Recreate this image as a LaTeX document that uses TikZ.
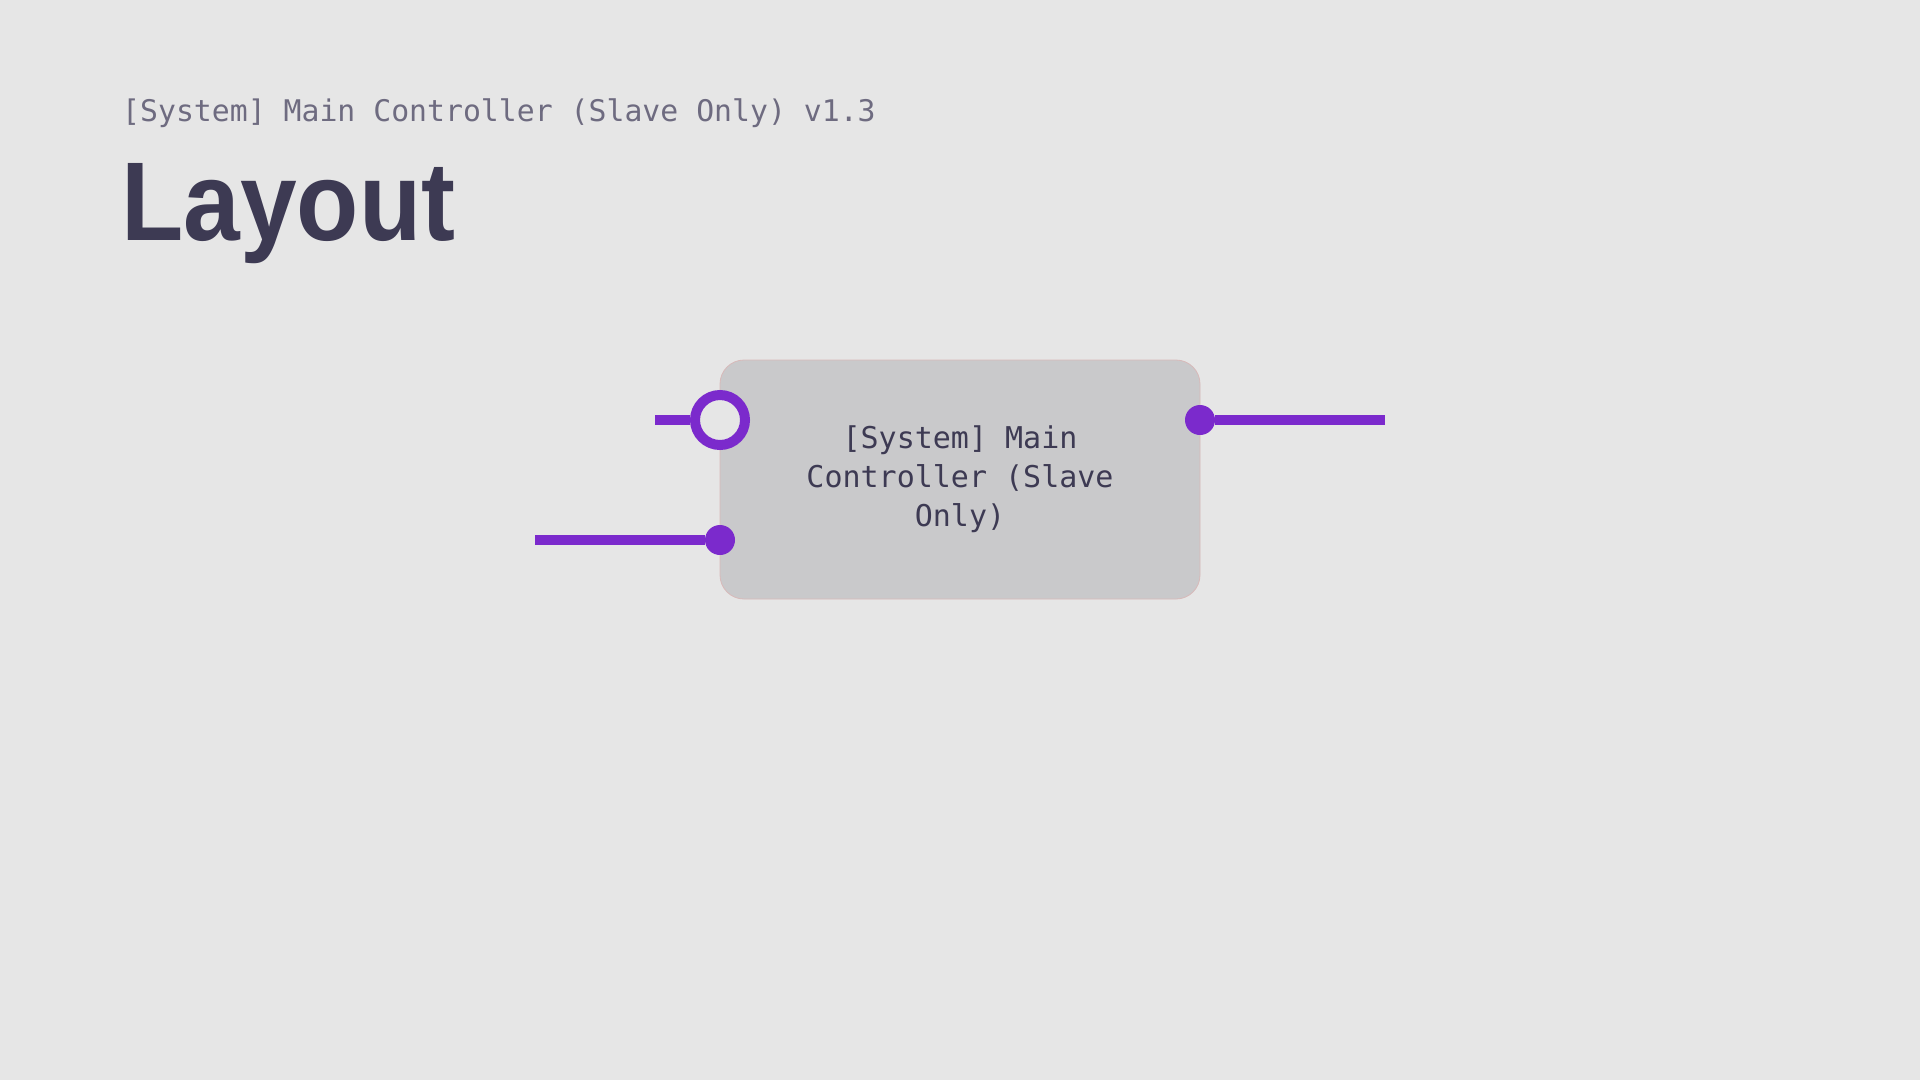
\documentclass[tikz,border=0pt]{standalone}
\usepackage{fontspec}
\setmainfont{Liberation Sans}
\newfontfamily\codefont{DejaVu Sans Mono}
\definecolor{bg}{HTML}{E6E6E6}
\definecolor{boxfill}{HTML}{C9C9CB}
\definecolor{boxedge}{HTML}{D8B9B9}
\definecolor{ink}{HTML}{3D3A53}
\definecolor{subink}{HTML}{6E6B80}
\definecolor{portpurple}{HTML}{7B2ACC}

\begin{document}
\begin{tikzpicture}[x=1pt,y=-1pt]
\tikzstyle{block}=[draw=boxedge,line width=0.8pt,fill=boxfill,rounded corners=24pt,minimum width=480pt,minimum height=239pt,inner sep=0pt,align=center,text=ink,font=\codefont\fontsize{30}{39}\selectfont]
\tikzstyle{pin}=[shape=circle,fill=portpurple,minimum size=30pt,inner sep=0pt]
\tikzstyle{ring}=[shape=circle,draw=portpurple,line width=10pt,fill=bg,minimum size=50pt,inner sep=0pt]
\tikzstyle{link}=[draw=portpurple,line width=10pt]

% page
\fill[bg] (0,0) rectangle (1920,1080);

% heading
\node[anchor=base west,inner sep=0pt,text=subink,font=\codefont\fontsize{29.8}{36}\selectfont] at (122,121) (subtitle) {[System] Main Controller (Slave Only) v1.3};
\node[anchor=base west,inner sep=0pt,text=ink,xscale=0.91,font=\bfseries\fontsize{112}{130}\selectfont] at (121,240) (title) {Layout};

% controller
\node[block] at (960,479.5) (ctrl) {[System] Main\\Controller (Slave\\Only)};

% ports
\node[ring] at (720,420) (in1) {};
\node[pin] at (720,540) (in2) {};
\node[pin] at (1200,420) (out1) {};

\coordinate (in1end) at (655,420);
\coordinate (in2end) at (535,540);
\coordinate (out1end) at (1385,420);

\draw[link] (in1end) -- (in1);
\draw[link] (in2end) -- (in2);
\draw[link] (out1) -- (out1end);
\end{tikzpicture}
\end{document}
